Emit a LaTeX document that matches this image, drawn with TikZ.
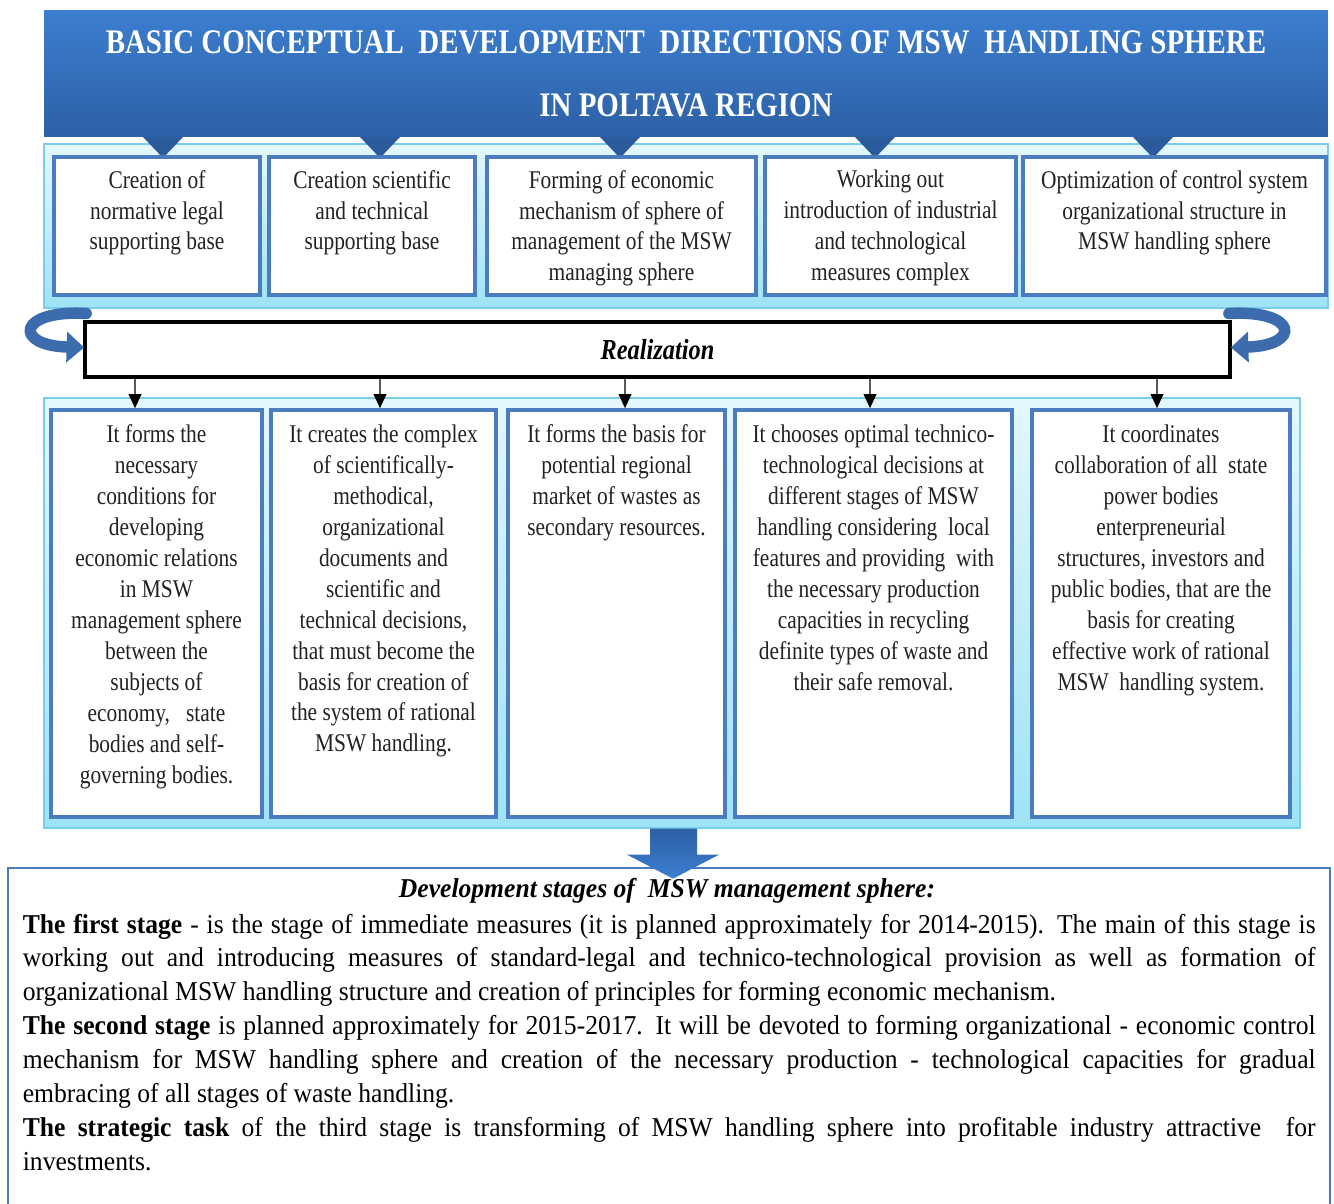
\documentclass[tikz,border=0pt]{standalone}
\usepackage{fontspec}
\setmainfont{Liberation Serif}[FakeStretch=0.84]
\newfontfamily\stagefont{Liberation Serif}[FakeStretch=0.94]
\usetikzlibrary{arrows.meta, positioning, calc}
\definecolor{hdrtop}{HTML}{3C7ED0}
\definecolor{hdrbot}{HTML}{2D60A5}
\definecolor{tridark}{HTML}{2B5B9C}
\definecolor{bandlight}{HTML}{E4F7FD}
\definecolor{bandcyan}{HTML}{9EE3F6}
\definecolor{bandline}{HTML}{7ACDE8}
\definecolor{boxblue}{HTML}{4A7CBF}
\definecolor{curlblue}{HTML}{3D6CAE}
\definecolor{txtdark}{HTML}{222222}

\begin{document}
\begin{tikzpicture}[
    x=0.02cm, y=-0.02cm,
    line width=1pt,
    hdr/.style={rectangle, top color=hdrtop, bottom color=hdrbot, draw=none,
        minimum width=25.68cm, minimum height=2.54cm, inner sep=0pt,
        text=white, align=center, font=\fontsize{19.6}{35.7}\selectfont\bfseries},
    band/.style={rectangle, top color=bandlight, bottom color=bandcyan,
        draw=bandline, line width=0.8pt, inner sep=0pt},
    tbox/.style={rectangle, draw=boxblue, fill=white, line width=2pt,
        minimum height=2.76cm, inner sep=0pt},
    lbox/.style={tbox, minimum height=8.14cm},
    txt/.style={align=center, inner sep=0pt, text=txtdark,
        font=\fontsize{14.5}{17.6}\selectfont},
    realbox/.style={rectangle, draw=black, fill=white, line width=2.2pt,
        minimum width=22.9cm, minimum height=1.1cm,
        font=\fontsize{16.5}{18}\selectfont\bfseries\itshape},
    curl/.style={draw=curlblue, line width=6.5pt, line cap=round,
        -{Triangle[width=17pt,length=10pt]}},
    dnarr/.style={draw=gray!70!black, line width=1.4pt,
        -{Triangle[width=7pt,length=8pt,color=black]}},
    tri/.style={fill=tridark},
    bigarr/.style={top color=hdrbot, bottom color=hdrtop, draw=none},
    stbox/.style={rectangle, draw=boxblue, fill=white, line width=1.5pt,
        minimum width=26.44cm, minimum height=6.94cm},
    sttl/.style={inner sep=0pt, font=\stagefont\fontsize{15.5}{19}\selectfont\bfseries\itshape},
    stbody/.style={inner sep=0pt, text width=25.86cm, align=justify,
        font=\stagefont\fontsize{15.5}{19.3}\selectfont}
]
\useasboundingbox (0,0) rectangle (1334,1203);

% header and the five directions
\node[band, minimum width=25.68cm, minimum height=3.28cm] (tband) at (686,226) {};
\node[hdr] (hdr) at (686,73.5) {BASIC CONCEPTUAL\ \ DEVELOPMENT\ \ DIRECTIONS OF MSW\ \ HANDLING SPHERE\\IN POLTAVA REGION};
\foreach \tx in {163,380,620,875,1153}
    \fill[tri] (\tx-20,137) -- (\tx+20,137) -- (\tx,158) -- cycle;

\node[tbox, minimum width=4.12cm] (t1) at (157,226) {};
\node[tbox, minimum width=4.12cm] (t2) at (372,226) {};
\node[tbox, minimum width=5.38cm] (t3) at (621.5,226) {};
\node[tbox, minimum width=5.02cm] (t4) at (890.5,226) {};
\node[tbox, minimum width=6.06cm] (t5) at (1174.5,226) {};

\node[txt, below=8pt of t1.north] {Creation of\\normative legal\\supporting base};
\node[txt, below=8pt of t2.north] {Creation scientific\\and technical\\supporting base};
\node[txt, below=8pt of t3.north] {Forming of economic\\mechanism of sphere of\\management of the MSW\\managing sphere};
\node[txt, below=8pt of t4.north] {Working out\\introduction of industrial\\and technological\\measures complex};
\node[txt, below=8pt of t5.north] {Optimization of control system\\organizational structure in\\MSW handling sphere};

% realization
\node[realbox] (real) at (657.5,349.5) {Realization};
\draw[curl] ($(real.west)+(3,-36)$) .. controls ($(real.west)+(-66,-40)$)
    and ($(real.west)+(-70,-4)$) .. ($(real.west)+(1,-2)$);
\draw[curl] ($(real.east)+(-3,-36)$) .. controls ($(real.east)+(66,-40)$)
    and ($(real.east)+(70,-4)$) .. ($(real.east)+(-1,-2)$);

% results
\node[band, minimum width=25.12cm, minimum height=8.6cm] (lband) at (672,613) {};
\node[lbox, minimum width=4.22cm] (b1) at (156.5,613.5) {};
\node[lbox, minimum width=4.5cm] (b2) at (383.5,613.5) {};
\node[lbox, minimum width=4.34cm] (b3) at (616.5,613.5) {};
\node[lbox, minimum width=5.54cm] (b4) at (873.5,613.5) {};
\node[lbox, minimum width=5.16cm] (b5) at (1161,613.5) {};

\node[txt, below=9pt of b1.north] {It forms the\\necessary\\conditions for\\developing\\economic relations\\in MSW\\management sphere\\between the\\subjects of\\economy,\ \ \ state\\bodies and self-\\governing bodies.};
\node[txt, below=9pt of b2.north] {It creates the complex\\of scientifically-\\methodical,\\organizational\\documents and\\scientific and\\technical decisions,\\that must become the\\basis for creation of\\the system of rational\\MSW handling.};
\node[txt, below=9pt of b3.north] {It forms the basis for\\potential regional\\market of wastes as\\secondary resources.};
\node[txt, below=9pt of b4.north] {It chooses optimal technico-\\technological decisions at\\different stages of MSW\\handling considering\ \ local\\features and providing\ \ with\\the necessary production\\capacities in recycling\\definite types of waste and\\their safe removal.};
\node[txt, below=9pt of b5.north] {It coordinates\\collaboration of all\ \ state\\power bodies\\enterpreneurial\\structures, investors and\\public bodies, that are the\\basis for creating\\effective work of rational\\MSW\ \ handling system.};

\foreach \bx/\ax in {b1/135, b2/380, b3/625, b4/870, b5/1157}
    \draw[dnarr] (real.south -| \ax,0) -- (\bx.north -| \ax,0);

% stages
\node[stbox] (stg) at (669,1041.5) {};
\node[sttl] (sttl) at (667,891) {Development stages of\ \ MSW management sphere:};
\node[stbody, anchor=north west] (stxt) at (22,913) {\textbf{The first stage} - is the stage of immediate measures (it is planned approximately for 2014-2015). The main of this stage is\linebreak working out and introducing measures of standard-legal and technico-technological provision as well as formation of\linebreak organizational MSW handling structure and creation of principles for forming economic mechanism.\par
\textbf{The second stage} is planned approximately for 2015-2017. It will be devoted to forming organizational - economic control\linebreak mechanism for MSW handling sphere and creation of the necessary production - technological capacities for gradual\linebreak embracing of all stages of waste handling.\par
\textbf{The strategic task} of the third stage is transforming of MSW handling sphere into profitable industry attractive\ \ for\linebreak investments.};
\shade[bigarr] ($(lband.south)+(-22,0)$) -- ++(47,0) -- ++(0,26) -- ++(22,0)
    -- ++(-46,24) -- ++(-46,-24) -- ++(23,0) -- cycle;

\end{tikzpicture}
\end{document}
